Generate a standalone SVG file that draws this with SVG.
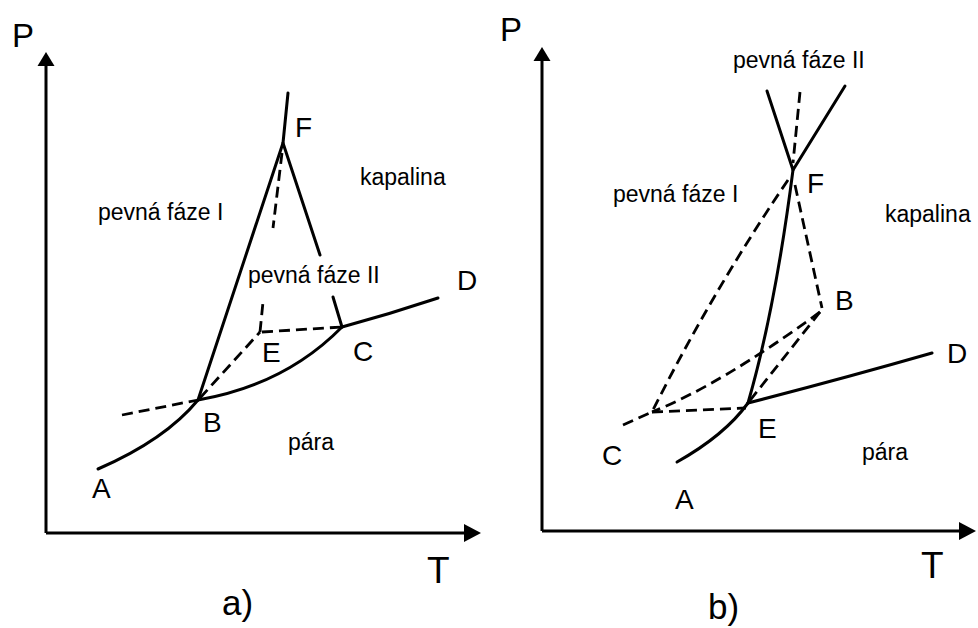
<svg xmlns="http://www.w3.org/2000/svg" width="978" height="628" viewBox="0 0 978 628">
<defs>
<style>
.ax{fill:none;stroke:#000;stroke-width:3}
.s{fill:none;stroke:#000;stroke-width:3;stroke-linecap:round;stroke-linejoin:round}
.d{fill:none;stroke:#000;stroke-width:2.8;stroke-dasharray:11 6}
.t{font-family:"Liberation Sans",Arial,Helvetica,sans-serif;fill:#000}
.lab{font-size:23px}
.pt{font-size:28px}
.big{font-size:35px}
.hd{fill:#000}
</style>
</defs>
<rect width="978" height="628" fill="#fff"/>

<!-- Panel a -->
<g id="panel-a">
  <g id="axes-a">
    <path class="ax" d="M46,533 V60 M46,533 H466"/>
    <polygon class="hd" points="46,52 37.5,66 54.5,66"/>
    <polygon class="hd" points="481,533 464,524 464,542"/>
    <text class="t" x="12" y="47" font-size="33">P</text>
    <text class="t" x="427" y="583" font-size="37">T</text>
    <text class="t big" x="222" y="615">a)</text>
  </g>
  <g id="curves-a">
    <path class="s" d="M98,469 Q165,440 198,400"/>
    <path class="s" d="M198,400 Q285,385 342,327"/>
    <path class="s" d="M342,327 Q390,314 438,298"/>
    <path class="s" d="M288,93 L283,143 L198,400"/>
    <path class="s" d="M283,143 L320,255"/>
    <path class="s" d="M333,297 L342,327"/>
    <path class="d" d="M122,415 L198,400"/>
    <path class="d" d="M200,398 L260,332"/>
    <path class="d" d="M262,332 L342,327"/>
    <path class="d" d="M260,332 L263,302"/>
    <path class="d" d="M282,153 L273,228"/>
  </g>
  <g id="labels-a">
    <text class="t pt" x="295" y="137">F</text>
    <text class="t pt" x="457" y="290">D</text>
    <text class="t pt" x="353" y="361">C</text>
    <text class="t pt" x="262" y="362">E</text>
    <text class="t pt" x="203" y="432">B</text>
    <text class="t pt" x="92" y="498">A</text>
    <text class="t lab" x="98" y="220">pevná fáze I</text>
    <text class="t lab" x="360" y="185">kapalina</text>
    <text class="t lab" x="248" y="283">pevná fáze II</text>
    <text class="t lab" x="288" y="450">pára</text>
  </g>
</g>

<!-- Panel b -->
<g id="panel-b">
  <g id="axes-b">
    <path class="ax" d="M542,531 V58 M542,531 H961"/>
    <polygon class="hd" points="542,47 533.5,61 550.5,61"/>
    <polygon class="hd" points="976,531 959,522 959,540"/>
    <text class="t" x="500" y="41" font-size="33">P</text>
    <text class="t" x="921" y="578" font-size="37">T</text>
    <text class="t big" x="708" y="619">b)</text>
  </g>
  <g id="curves-b">
    <path class="s" d="M767,91 L793,170 L845,86"/>
    <path class="d" d="M800,92 L793,163"/>
    <path class="s" d="M793,170 Q775,310 748,403"/>
    <path class="s" d="M677,462 Q725,435 748,403"/>
    <path class="s" d="M748,403 Q845,378 932,353"/>
    <path class="d" d="M795,185 L822,308"/>
    <path class="d" d="M820,312 Q720,385 652,412"/>
    <path class="d" d="M820,312 L748,403"/>
    <path class="d" d="M788,180 Q712,292 652,412"/>
    <path class="d" d="M652,412 L746,408"/>
    <path class="d" d="M623,425 L652,412"/>
  </g>
  <g id="labels-b">
    <text class="t pt" x="807" y="193">F</text>
    <text class="t pt" x="835" y="310">B</text>
    <text class="t pt" x="947" y="363">D</text>
    <text class="t pt" x="758" y="438">E</text>
    <text class="t pt" x="602" y="465">C</text>
    <text class="t pt" x="675" y="509">A</text>
    <text class="t lab" x="733" y="68">pevná fáze II</text>
    <text class="t lab" x="613" y="202">pevná fáze I</text>
    <text class="t lab" x="885" y="222">kapalina</text>
    <text class="t lab" x="862" y="460">pára</text>
  </g>
</g>
</svg>
